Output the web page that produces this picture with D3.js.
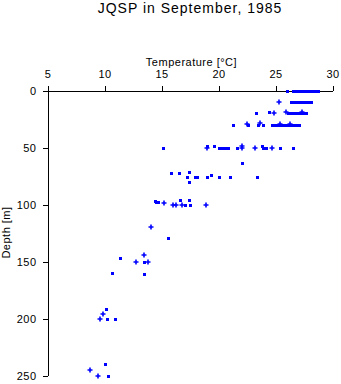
<!DOCTYPE html>
<html>
<head>
<meta charset="utf-8">
<script src="https://cdn.jsdelivr.net/npm/d3@7/dist/d3.min.js"></script>
<style>
  html, body { margin: 0; padding: 0; background: #fff; }
  svg { display: block; }
  text { font-family: "Liberation Sans", Arial, Helvetica, sans-serif; fill: #000; }
</style>
</head>
<body>
<svg id="chart" width="341" height="384"></svg>
<script>
// ---- data ----
const titleText = "JQSP in September, 1985";
const xLabel = "Temperature [°C]";
const yLabel = "Depth [m]";
const xTicks = [5, 10, 15, 20, 25, 30];
const yTicks = [0, 50, 100, 150, 200, 250];

// square markers
const squareTemp = [
  26.0, 26.5, 26.6, 26.8, 26.9, 27.1, 27.2, 27.4, 27.5, 27.7, 27.8, 28.0, 28.2, 28.3, 28.5, 28.7,
  26.4, 26.5, 26.7, 26.8, 27.0, 27.1, 27.3, 27.4, 27.6, 27.7, 27.9, 28.1,
  23.3, 24.4, 26.1, 26.3, 26.4, 26.6, 26.8, 26.9, 27.1, 27.2, 27.4, 27.6, 27.7,
  21.3, 22.6, 23.5, 23.9, 24.7, 24.9, 25.0, 25.2, 25.4, 25.6, 25.7, 25.9, 26.1, 26.2, 26.4, 26.6, 26.8, 26.9, 27.1,
  15.1, 19.0, 19.6, 20.0, 20.2, 20.4, 20.6, 20.8, 21.6, 23.8, 23.9, 24.2, 25.4, 26.5,
  22.1,
  15.8, 16.5, 17.4,
  17.2, 17.9, 18.1, 19.0, 19.3, 20.0, 21.0, 23.4,
  17.4,
  14.4, 14.5, 14.7, 16.6, 17.4,
  17.1, 17.5,
  15.6, 11.4, 13.5, 10.7, 13.5,
  10.1, 10.2, 10.9,
  10.0, 10.35
];
const squareDepth = [
  0, 0, 0, 0, 0, 0, 0, 0, 0, 0, 0, 0, 0, 0, 0, 0,
  10, 10, 10, 10, 10, 10, 10, 10, 10, 10, 10, 10,
  20, 19, 20, 20, 20, 20, 20, 20, 20, 20, 20, 20, 20,
  30, 30, 30, 30, 30, 30, 30, 30, 30, 30, 30, 30, 30, 30, 30, 30, 30, 30, 30,
  50, 48.5, 48.5, 50, 50, 50, 50, 50, 50, 48.5, 50, 50, 50, 50,
  64,
  72, 72, 71.5,
  75.5, 75.5, 75.5, 75.5, 74, 75.5, 75.5, 75.5,
  80,
  96.5, 98, 97.5, 96, 96,
  100, 100,
  129, 147, 150, 160, 161,
  192, 200, 200,
  240, 250
];

// plus markers
const plusTemp = [
  25.3,
  24.9, 25.9, 27.3,
  22.5, 23.6, 25.4, 26.3,
  19.0, 22.1, 22.1, 23.2, 24.7,
  15.2, 16.0, 16.3, 16.8, 18.9,
  14.1, 13.5, 12.8, 13.8,
  9.9, 9.6,
  8.7, 9.4
];
const plusDepth = [
  10,
  20, 19, 19,
  29, 28.5, 29, 29,
  50, 50, 49, 50, 50,
  98.5, 100, 100, 100, 100,
  120, 144, 150, 150,
  196, 200,
  245, 250
];

// ---- drawing ----
const svg = d3.select("#chart");
const mLeft = 47.5, mRight = 332.5, mTop = 90.5, mBottom = 375.5;
const blue = "#0000ff";

const x = d3.scaleLinear().domain([5, 30]).range([mLeft, mRight]);
const y = d3.scaleLinear().domain([0, 250]).range([mTop, mBottom]);

svg.append("text")
  .attr("x", 190).attr("y", 13)
  .attr("text-anchor", "middle")
  .style("font-size", "14px")
  .style("letter-spacing", "1px")
  .text(titleText);

svg.append("text")
  .attr("x", 191.5).attr("y", 66)
  .attr("text-anchor", "middle")
  .style("font-size", "11px")
  .style("letter-spacing", "0.5px")
  .text(xLabel);

svg.append("text")
  .attr("transform", "translate(10,232.5) rotate(-90)")
  .attr("text-anchor", "middle")
  .style("font-size", "11px")
  .style("letter-spacing", "0.5px")
  .text(yLabel);

const xAxis = svg.append("g")
  .attr("transform", `translate(0,${mTop})`)
  .call(d3.axisTop(x).tickValues(xTicks).tickSize(5).tickSizeOuter(0).tickPadding(8).tickFormat(d3.format("d")));
const yAxis = svg.append("g")
  .attr("transform", `translate(${mLeft},0)`)
  .call(d3.axisLeft(y).tickValues(yTicks).tickSize(5).tickSizeOuter(0).tickPadding(6).tickFormat(d3.format("d")));

[xAxis, yAxis].forEach(g => {
  g.selectAll("path, line").attr("stroke", "#000").attr("stroke-width", 1).attr("shape-rendering", "crispEdges");
  g.selectAll("text").style("font-size", "11px").style("letter-spacing", "0.5px")
    .style("font-family", "'Liberation Sans', Arial, sans-serif").attr("fill", "#000");
});

const squares = squareTemp.map((t, i) => ({ t, d: squareDepth[i] }));
const pluses = plusTemp.map((t, i) => ({ t, d: plusDepth[i] }));

svg.append("g").selectAll("rect").data(squares).join("rect")
  .attr("x", p => Math.round(x(p.t)) - 1.5)
  .attr("y", p => Math.round(y(p.d)) - 1.5)
  .attr("width", 3).attr("height", 3)
  .attr("fill", blue)
  .attr("shape-rendering", "crispEdges");

svg.append("g").selectAll("path").data(pluses).join("path")
  .attr("transform", p => `translate(${Math.round(x(p.t))},${Math.round(y(p.d))})`)
  .attr("d", "M-2.5,0H2.5M0,-2.5V2.5")
  .attr("stroke", blue).attr("stroke-width", 1.6).attr("fill", "none");
</script>
</body>
</html>
